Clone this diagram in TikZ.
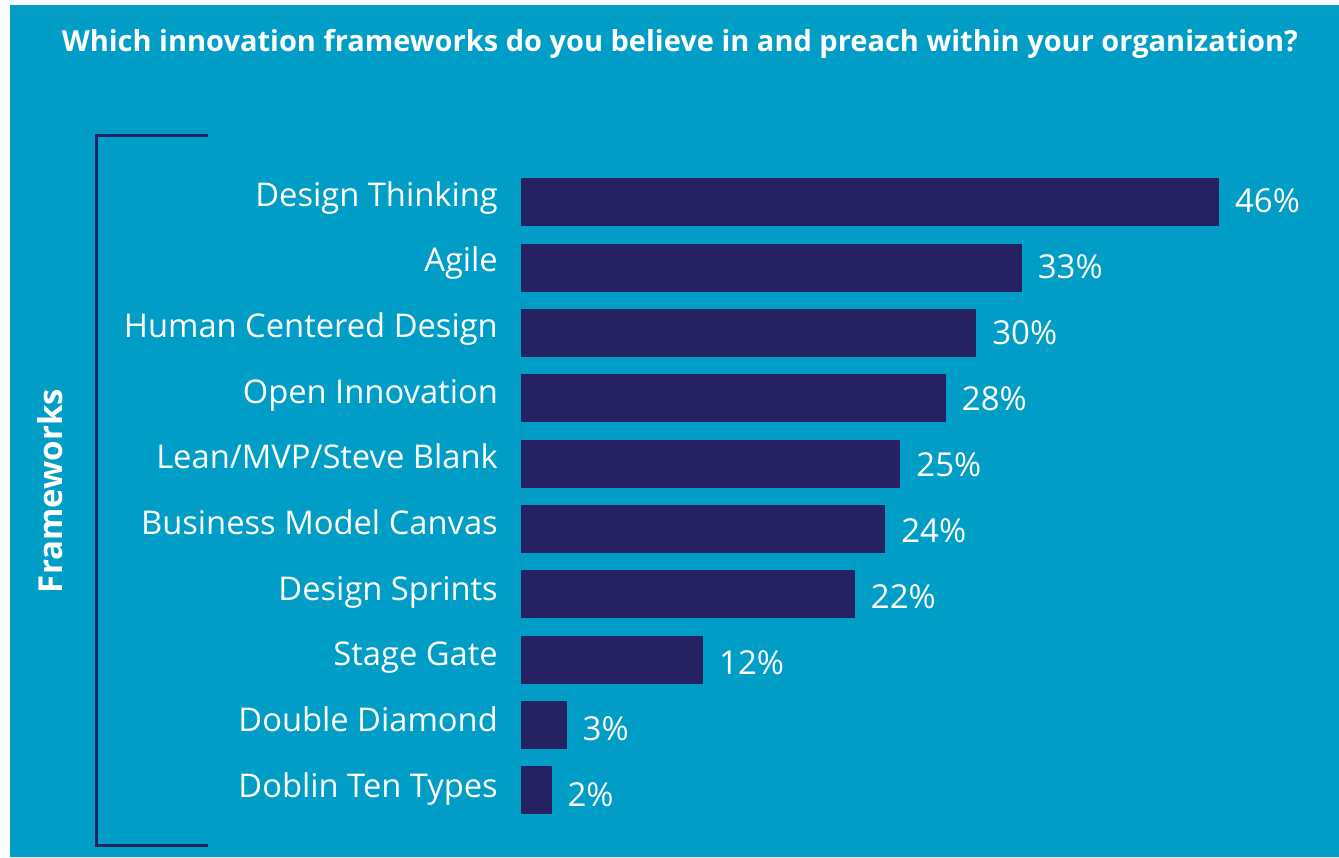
\documentclass[tikz,border=0pt]{standalone}
\usepackage{fontspec}
\setmainfont{Open Sans}
\definecolor{bgblue}{RGB}{0,157,198}
\definecolor{navy}{RGB}{38,34,98}
\begin{document}
\begin{tikzpicture}[x=1pt,y=-1pt,
  bar/.style={fill=navy,draw=none},
  lab/.style={anchor=base east,text=white,font=\fontsize{32.7}{38}\selectfont,inner sep=0pt},
  pct/.style={anchor=base west,text=white,font=\fontsize{33}{38}\selectfont,inner sep=0pt},
  bracket/.style={draw=navy,line width=3pt}]
\useasboundingbox (0,0) rectangle (1339,857);
\fill[white] (0,0) rectangle (1339,857);
\fill[bgblue] (10,5) rectangle (1339,857);
\node[anchor=base,text=white,font=\bfseries\fontsize{29}{34}\selectfont,inner sep=0pt] (title) at (680,51) {Which innovation frameworks do you believe in and preach within your organization?};
\coordinate (bt) at (208,135);
\coordinate (bb) at (208,845);
\draw[bracket] (bt) -| (96,845) -- (bb);
\node[rotate=90,anchor=center,text=white,font=\bfseries\fontsize{33}{38}\selectfont,inner sep=0pt] (fw) at (50,491) {Frameworks};
\foreach \name/\v/\i in {{Design Thinking}/46/0,{Agile}/33/1,{Human Centered Design}/30/2,{Open Innovation}/28/3,{Lean/MVP/Steve Blank}/25/4,{Business Model Canvas}/24/5,{Design Sprints}/22/6,{Stage Gate}/12/7,{Double Diamond}/3/8,{Doblin Ten Types}/2/9}{
  \pgfmathsetmacro{\ytop}{178+65.33*\i}
  \pgfmathsetmacro{\xr}{521+15.17*\v}
  \node[bar,minimum width={\xr-521},minimum height=48pt,inner sep=0pt,anchor=north west] (b\i) at (521,\ytop) {};
  \node[lab] (l\i) at (498,{206+65.67*\i}) {\name};
  \node[pct] (p\i) at ({\xr+16},{212+66.1*\i}) {\v\%};
}
\end{tikzpicture}
\end{document}
